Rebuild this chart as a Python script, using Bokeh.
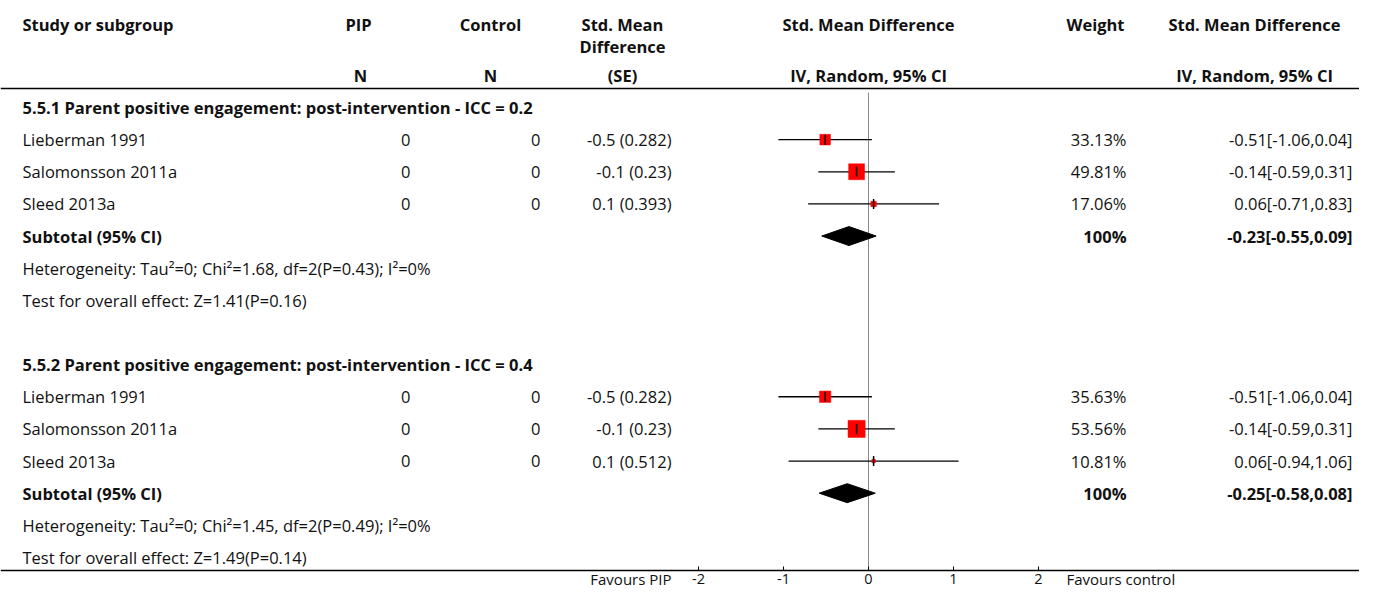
from bokeh.plotting import figure
from bokeh.models import Range1d, LinearAxis, FixedTicker, Label, Span
from bokeh.embed import file_html
from bokeh.resources import INLINE

# ---------------- data ----------------
groups = ["5.5.1 Parent positive engagement: post-intervention - ICC = 0.2",
          "5.5.2 Parent positive engagement: post-intervention - ICC = 0.4"]
studies = ["Lieberman 1991", "Salomonsson 2011a", "Sleed 2013a"]
pip_n = [[0, 0, 0], [0, 0, 0]]
control_n = [[0, 0, 0], [0, 0, 0]]
smd_se = [["-0.5 (0.282)", "-0.1 (0.23)", "0.1 (0.393)"],
          ["-0.5 (0.282)", "-0.1 (0.23)", "0.1 (0.512)"]]
est = [[-0.51, -0.14, 0.06], [-0.51, -0.14, 0.06]]
lo = [[-1.06, -0.59, -0.71], [-1.06, -0.59, -0.94]]
hi = [[0.04, 0.31, 0.83], [0.04, 0.31, 1.06]]
weights = [[33.13, 49.81, 17.06], [35.63, 53.56, 10.81]]
sub_est = [-0.23, -0.25]
sub_lo = [-0.55, -0.58]
sub_hi = [0.09, 0.08]
heterogeneity = ["Heterogeneity: Tau\u00b2=0; Chi\u00b2=1.68, df=2(P=0.43); I\u00b2=0%",
                 "Heterogeneity: Tau\u00b2=0; Chi\u00b2=1.45, df=2(P=0.49); I\u00b2=0%"]
overall = ["Test for overall effect: Z=1.41(P=0.16)",
           "Test for overall effect: Z=1.49(P=0.14)"]
axis_ticks = [-2, -1, 0, 1, 2]
axis_tick_labels = ["-2", "-1", "0", "1", "2"]
favours_left = "Favours PIP"
favours_right = "Favours control"

# ---------------- layout ----------------
FONT = "Open Sans"
FS = "16.5px"
W, H = 1359, 590
PX_PER_UNIT = 85.0
ZERO_PX = 868.0
ROW_PX = 32.14
ROW0_PX = 107.0
AXIS_PX = 570.0


def row_of(px):
    return (px - ROW0_PX) / ROW_PX


p = figure(width=W, height=H, output_backend="svg", toolbar_location=None,
           x_range=Range1d(-ZERO_PX / PX_PER_UNIT, (W - ZERO_PX) / PX_PER_UNIT),
           y_range=Range1d(row_of(H), row_of(0)),
           min_border_left=0, min_border_right=0, min_border_top=0,
           min_border_bottom=0, x_axis_location=None, y_axis_location=None)
p.outline_line_color = None
p.grid.visible = False
p.background_fill_color = "white"
p.border_fill_color = "white"

ax = LinearAxis(ticker=FixedTicker(ticks=axis_ticks), fixed_location=row_of(AXIS_PX))
ax.major_label_overrides = {t: s for t, s in zip(axis_ticks, axis_tick_labels)}
ax.major_tick_in = 4
ax.major_tick_out = 0
ax.minor_tick_line_color = None
ax.axis_line_color = "black"
ax.axis_line_width = 1.5
ax.major_tick_line_color = "black"
ax.major_label_text_font = FONT
ax.major_label_text_font_size = "14.5px"
ax.major_label_text_color = "#111111"
ax.major_label_standoff = 3
p.add_layout(ax, "below")


def txt(s, x, row, align="left", bold=False, size=FS):
    p.add_layout(Label(x=x, y=row, x_units="screen", y_units="data", text=str(s),
                       text_align=align, text_baseline="middle", text_font=FONT,
                       text_font_size=size, text_font_style="bold" if bold else "normal",
                       text_color="#111111"))


# header
H1, H2, H3 = row_of(24), row_of(46), row_of(75)
txt("Study or subgroup", 22, H1, bold=True)
txt("PIP", 358, H1, "center", True)
txt("N", 360, H3, "center", True)
txt("Control", 490, H1, "center", True)
txt("N", 490, H3, "center", True)
txt("Std. Mean", 622, H1, "center", True)
txt("Difference", 622, H2, "center", True)
txt("(SE)", 622, H3, "center", True)
txt("Std. Mean Difference", ZERO_PX, H1, "center", True)
txt("IV, Random, 95% CI", ZERO_PX, H3, "center", True)
txt("Weight", 1124, H1, "right", True)
txt("Std. Mean Difference", 1254, H1, "center", True)
txt("IV, Random, 95% CI", 1254, H3, "center", True)
p.add_layout(Span(location=row_of(88), dimension="width", line_color="black", line_width=1.5))

# zero line
p.segment(x0=[0], y0=[row_of(92)], x1=[0], y1=[row_of(AXIS_PX)],
          line_color="#8a8a8a", line_width=1)

row = 0
for g in range(len(groups)):
    txt(groups[g], 22, row, bold=True)
    rows = [row + 1 + i for i in range(len(studies))]
    for i, r in enumerate(rows):
        txt(studies[i], 22, r)
        txt(pip_n[g][i], 410, r, "right")
        txt(control_n[g][i], 540, r, "right")
        txt(smd_se[g][i], 671, r, "right")
        txt(f"{weights[g][i]:.2f}%", 1126, r, "right")
        txt(f"{est[g][i]:.2f}[{lo[g][i]:.2f},{hi[g][i]:.2f}]", 1352, r, "right")
    p.segment(x0=lo[g], y0=rows, x1=hi[g], y1=rows, line_color="black", line_width=1.3)
    p.scatter(x=est[g], y=rows, size=[w * 0.32 for w in weights[g]], marker="square",
              fill_color="#ff0000", line_color="#ff0000", line_width=0.5)
    p.scatter(x=est[g], y=rows, size=10, marker="dash", angle=1.5708,
              line_color="black", line_width=1.5)
    rs = row + 1 + len(studies)
    txt("Subtotal (95% CI)", 22, rs, bold=True)
    txt("100%", 1126, rs, "right", True)
    txt(f"{sub_est[g]:.2f}[{sub_lo[g]:.2f},{sub_hi[g]:.2f}]", 1352, rs, "right", True)
    hh = 9.5 / ROW_PX
    p.patch(x=[sub_lo[g], sub_est[g], sub_hi[g], sub_est[g]],
            y=[rs, rs - hh, rs, rs + hh], fill_color="black", line_color="black")
    txt(heterogeneity[g], 22, rs + 1)
    txt(overall[g], 22, rs + 2)
    row = rs + 4

# favours labels under the axis
fy = row_of(578)
txt(favours_left, 671, fy, "right", size="15px")
txt(favours_right, 1066, fy, "left", size="15px")

open("out.html", "w").write(file_html(p, INLINE))
